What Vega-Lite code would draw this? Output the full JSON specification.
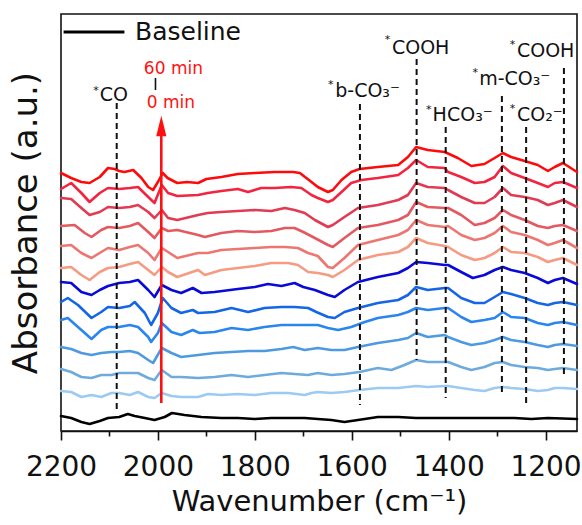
{
  "$schema": "https://vega.github.io/schema/vega-lite/v6.json",
  "width": 516,
  "height": 417,
  "autosize": "none",
  "padding": {"left": 61, "top": 14, "right": 5, "bottom": 94},
  "config": {
    "font": "DejaVu Sans",
    "view": {"stroke": "#111", "strokeWidth": 1.6},
    "axis": {"grid": false}
  },
  "datasets": {
    "spectra": [
      {"s":"S12","w":2200,"a":258},{"s":"S12","w":2179,"a":253},{"s":"S12","w":2158,"a":249},{"s":"S12","w":2141,"a":248},{"s":"S12","w":2120,"a":254},{"s":"S12","w":2103,"a":263},{"s":"S12","w":2089,"a":262},{"s":"S12","w":2080,"a":260},{"s":"S12","w":2069,"a":259},{"s":"S12","w":2051,"a":261},{"s":"S12","w":2034,"a":253},{"s":"S12","w":2020,"a":244},{"s":"S12","w":2010,"a":241},{"s":"S12","w":2000,"a":249},{"s":"S12","w":1990,"a":258},{"s":"S12","w":1980,"a":253},{"s":"S12","w":1960,"a":248},{"s":"S12","w":1940,"a":249},{"s":"S12","w":1917,"a":248},{"s":"S12","w":1900,"a":252},{"s":"S12","w":1869,"a":254},{"s":"S12","w":1835,"a":257},{"s":"S12","w":1800,"a":258},{"s":"S12","w":1759,"a":259},{"s":"S12","w":1721,"a":259},{"s":"S12","w":1707,"a":258},{"s":"S12","w":1683,"a":249},{"s":"S12","w":1670,"a":244},{"s":"S12","w":1649,"a":239},{"s":"S12","w":1639,"a":241},{"s":"S12","w":1621,"a":251},{"s":"S12","w":1601,"a":259},{"s":"S12","w":1584,"a":262},{"s":"S12","w":1546,"a":264},{"s":"S12","w":1504,"a":266},{"s":"S12","w":1484,"a":274},{"s":"S12","w":1467,"a":284},{"s":"S12","w":1443,"a":281},{"s":"S12","w":1408,"a":279},{"s":"S12","w":1381,"a":273},{"s":"S12","w":1353,"a":265},{"s":"S12","w":1326,"a":267},{"s":"S12","w":1305,"a":273},{"s":"S12","w":1288,"a":278},{"s":"S12","w":1271,"a":274},{"s":"S12","w":1243,"a":270},{"s":"S12","w":1216,"a":266},{"s":"S12","w":1195,"a":260},{"s":"S12","w":1181,"a":264},{"s":"S12","w":1164,"a":268},{"s":"S12","w":1135,"a":259},
      {"s":"S11","w":2200,"a":242},{"s":"S11","w":2179,"a":248},{"s":"S11","w":2158,"a":238},{"s":"S11","w":2141,"a":229},{"s":"S11","w":2120,"a":238},{"s":"S11","w":2103,"a":243},{"s":"S11","w":2080,"a":242},{"s":"S11","w":2058,"a":243},{"s":"S11","w":2041,"a":244},{"s":"S11","w":2020,"a":234},{"s":"S11","w":2007,"a":228},{"s":"S11","w":1992,"a":246},{"s":"S11","w":1979,"a":238},{"s":"S11","w":1960,"a":235},{"s":"S11","w":1917,"a":236},{"s":"S11","w":1897,"a":238},{"s":"S11","w":1869,"a":240},{"s":"S11","w":1835,"a":242},{"s":"S11","w":1814,"a":239},{"s":"S11","w":1787,"a":243},{"s":"S11","w":1759,"a":243},{"s":"S11","w":1725,"a":244},{"s":"S11","w":1704,"a":243},{"s":"S11","w":1683,"a":236},{"s":"S11","w":1670,"a":233},{"s":"S11","w":1649,"a":229},{"s":"S11","w":1639,"a":231},{"s":"S11","w":1621,"a":239},{"s":"S11","w":1601,"a":248},{"s":"S11","w":1580,"a":251},{"s":"S11","w":1546,"a":253},{"s":"S11","w":1504,"a":256},{"s":"S11","w":1484,"a":263},{"s":"S11","w":1467,"a":271},{"s":"S11","w":1443,"a":264},{"s":"S11","w":1408,"a":263},{"s":"S11","w":1401,"a":259},{"s":"S11","w":1374,"a":254},{"s":"S11","w":1346,"a":248},{"s":"S11","w":1326,"a":249},{"s":"S11","w":1305,"a":254},{"s":"S11","w":1288,"a":265},{"s":"S11","w":1271,"a":258},{"s":"S11","w":1243,"a":253},{"s":"S11","w":1216,"a":248},{"s":"S11","w":1195,"a":244},{"s":"S11","w":1181,"a":248},{"s":"S11","w":1164,"a":249},{"s":"S11","w":1135,"a":243},
      {"s":"S10","w":2200,"a":233},{"s":"S10","w":2179,"a":232},{"s":"S10","w":2158,"a":223},{"s":"S10","w":2141,"a":216},{"s":"S10","w":2120,"a":219},{"s":"S10","w":2103,"a":224},{"s":"S10","w":2080,"a":223},{"s":"S10","w":2058,"a":224},{"s":"S10","w":2041,"a":226},{"s":"S10","w":2020,"a":219},{"s":"S10","w":2007,"a":213},{"s":"S10","w":1992,"a":221},{"s":"S10","w":1979,"a":213},{"s":"S10","w":1960,"a":211},{"s":"S10","w":1917,"a":216},{"s":"S10","w":1897,"a":218},{"s":"S10","w":1869,"a":219},{"s":"S10","w":1835,"a":220},{"s":"S10","w":1800,"a":221},{"s":"S10","w":1766,"a":220},{"s":"S10","w":1738,"a":223},{"s":"S10","w":1718,"a":221},{"s":"S10","w":1697,"a":218},{"s":"S10","w":1676,"a":211},{"s":"S10","w":1649,"a":204},{"s":"S10","w":1639,"a":206},{"s":"S10","w":1615,"a":214},{"s":"S10","w":1587,"a":223},{"s":"S10","w":1546,"a":226},{"s":"S10","w":1504,"a":231},{"s":"S10","w":1484,"a":236},{"s":"S10","w":1467,"a":248},{"s":"S10","w":1443,"a":244},{"s":"S10","w":1408,"a":243},{"s":"S10","w":1401,"a":241},{"s":"S10","w":1374,"a":234},{"s":"S10","w":1346,"a":228},{"s":"S10","w":1326,"a":228},{"s":"S10","w":1305,"a":234},{"s":"S10","w":1288,"a":243},{"s":"S10","w":1271,"a":236},{"s":"S10","w":1243,"a":234},{"s":"S10","w":1216,"a":231},{"s":"S10","w":1195,"a":226},{"s":"S10","w":1181,"a":228},{"s":"S10","w":1164,"a":231},{"s":"S10","w":1135,"a":224},
      {"s":"S9","w":2200,"a":205},{"s":"S9","w":2172,"a":206},{"s":"S9","w":2151,"a":198},{"s":"S9","w":2137,"a":194},{"s":"S9","w":2117,"a":201},{"s":"S9","w":2103,"a":204},{"s":"S9","w":2080,"a":203},{"s":"S9","w":2058,"a":205},{"s":"S9","w":2041,"a":208},{"s":"S9","w":2020,"a":199},{"s":"S9","w":2007,"a":193},{"s":"S9","w":1992,"a":203},{"s":"S9","w":1979,"a":200},{"s":"S9","w":1960,"a":201},{"s":"S9","w":1917,"a":196},{"s":"S9","w":1903,"a":194},{"s":"S9","w":1869,"a":198},{"s":"S9","w":1835,"a":200},{"s":"S9","w":1800,"a":199},{"s":"S9","w":1766,"a":200},{"s":"S9","w":1738,"a":203},{"s":"S9","w":1718,"a":203},{"s":"S9","w":1700,"a":199},{"s":"S9","w":1680,"a":194},{"s":"S9","w":1649,"a":186},{"s":"S9","w":1639,"a":184},{"s":"S9","w":1615,"a":193},{"s":"S9","w":1587,"a":203},{"s":"S9","w":1546,"a":206},{"s":"S9","w":1504,"a":211},{"s":"S9","w":1484,"a":216},{"s":"S9","w":1467,"a":229},{"s":"S9","w":1443,"a":224},{"s":"S9","w":1408,"a":223},{"s":"S9","w":1401,"a":223},{"s":"S9","w":1374,"a":216},{"s":"S9","w":1346,"a":206},{"s":"S9","w":1326,"a":208},{"s":"S9","w":1305,"a":213},{"s":"S9","w":1288,"a":221},{"s":"S9","w":1271,"a":216},{"s":"S9","w":1243,"a":211},{"s":"S9","w":1216,"a":205},{"s":"S9","w":1195,"a":203},{"s":"S9","w":1181,"a":205},{"s":"S9","w":1164,"a":206},{"s":"S9","w":1135,"a":200},
      {"s":"S8","w":2200,"a":185},{"s":"S8","w":2179,"a":186},{"s":"S8","w":2158,"a":178},{"s":"S8","w":2137,"a":173},{"s":"S8","w":2117,"a":179},{"s":"S8","w":2103,"a":183},{"s":"S8","w":2080,"a":181},{"s":"S8","w":2058,"a":184},{"s":"S8","w":2041,"a":186},{"s":"S8","w":2020,"a":178},{"s":"S8","w":2007,"a":171},{"s":"S8","w":1992,"a":183},{"s":"S8","w":1979,"a":179},{"s":"S8","w":1960,"a":173},{"s":"S8","w":1917,"a":178},{"s":"S8","w":1897,"a":178},{"s":"S8","w":1869,"a":181},{"s":"S8","w":1835,"a":182},{"s":"S8","w":1800,"a":183},{"s":"S8","w":1766,"a":184},{"s":"S8","w":1738,"a":184},{"s":"S8","w":1711,"a":183},{"s":"S8","w":1690,"a":178},{"s":"S8","w":1670,"a":175},{"s":"S8","w":1649,"a":164},{"s":"S8","w":1639,"a":163},{"s":"S8","w":1615,"a":173},{"s":"S8","w":1587,"a":186},{"s":"S8","w":1546,"a":191},{"s":"S8","w":1504,"a":196},{"s":"S8","w":1484,"a":201},{"s":"S8","w":1467,"a":211},{"s":"S8","w":1443,"a":206},{"s":"S8","w":1408,"a":204},{"s":"S8","w":1401,"a":205},{"s":"S8","w":1374,"a":196},{"s":"S8","w":1346,"a":191},{"s":"S8","w":1326,"a":193},{"s":"S8","w":1305,"a":198},{"s":"S8","w":1288,"a":205},{"s":"S8","w":1271,"a":199},{"s":"S8","w":1243,"a":196},{"s":"S8","w":1216,"a":191},{"s":"S8","w":1195,"a":186},{"s":"S8","w":1181,"a":188},{"s":"S8","w":1164,"a":191},{"s":"S8","w":1135,"a":183},
      {"s":"S7","w":2200,"a":163},{"s":"S7","w":2179,"a":164},{"s":"S7","w":2158,"a":156},{"s":"S7","w":2141,"a":151},{"s":"S7","w":2120,"a":159},{"s":"S7","w":2103,"a":163},{"s":"S7","w":2080,"a":164},{"s":"S7","w":2058,"a":167},{"s":"S7","w":2041,"a":169},{"s":"S7","w":2020,"a":161},{"s":"S7","w":2007,"a":156},{"s":"S7","w":1992,"a":164},{"s":"S7","w":1979,"a":159},{"s":"S7","w":1960,"a":154},{"s":"S7","w":1917,"a":161},{"s":"S7","w":1903,"a":156},{"s":"S7","w":1869,"a":161},{"s":"S7","w":1835,"a":163},{"s":"S7","w":1800,"a":165},{"s":"S7","w":1766,"a":168},{"s":"S7","w":1731,"a":168},{"s":"S7","w":1711,"a":166},{"s":"S7","w":1690,"a":159},{"s":"S7","w":1670,"a":158},{"s":"S7","w":1649,"a":156},{"s":"S7","w":1639,"a":154},{"s":"S7","w":1615,"a":161},{"s":"S7","w":1587,"a":171},{"s":"S7","w":1546,"a":176},{"s":"S7","w":1504,"a":179},{"s":"S7","w":1484,"a":184},{"s":"S7","w":1467,"a":193},{"s":"S7","w":1443,"a":188},{"s":"S7","w":1408,"a":185},{"s":"S7","w":1401,"a":184},{"s":"S7","w":1374,"a":176},{"s":"S7","w":1346,"a":171},{"s":"S7","w":1326,"a":173},{"s":"S7","w":1305,"a":178},{"s":"S7","w":1288,"a":184},{"s":"S7","w":1271,"a":179},{"s":"S7","w":1243,"a":178},{"s":"S7","w":1216,"a":174},{"s":"S7","w":1195,"a":169},{"s":"S7","w":1181,"a":171},{"s":"S7","w":1164,"a":173},{"s":"S7","w":1135,"a":166},
      {"s":"S6","w":2200,"a":149},{"s":"S6","w":2179,"a":148},{"s":"S6","w":2158,"a":139},{"s":"S6","w":2137,"a":136},{"s":"S6","w":2120,"a":141},{"s":"S6","w":2103,"a":145},{"s":"S6","w":2080,"a":148},{"s":"S6","w":2058,"a":149},{"s":"S6","w":2041,"a":151},{"s":"S6","w":2020,"a":141},{"s":"S6","w":2007,"a":134},{"s":"S6","w":1992,"a":146},{"s":"S6","w":1972,"a":141},{"s":"S6","w":1952,"a":138},{"s":"S6","w":1928,"a":143},{"s":"S6","w":1910,"a":138},{"s":"S6","w":1883,"a":139},{"s":"S6","w":1835,"a":142},{"s":"S6","w":1800,"a":144},{"s":"S6","w":1773,"a":147},{"s":"S6","w":1745,"a":145},{"s":"S6","w":1718,"a":148},{"s":"S6","w":1700,"a":144},{"s":"S6","w":1676,"a":141},{"s":"S6","w":1649,"a":136},{"s":"S6","w":1635,"a":134},{"s":"S6","w":1615,"a":141},{"s":"S6","w":1587,"a":149},{"s":"S6","w":1546,"a":154},{"s":"S6","w":1504,"a":158},{"s":"S6","w":1484,"a":163},{"s":"S6","w":1467,"a":169},{"s":"S6","w":1443,"a":168},{"s":"S6","w":1408,"a":166},{"s":"S6","w":1401,"a":166},{"s":"S6","w":1374,"a":159},{"s":"S6","w":1350,"a":153},{"s":"S6","w":1326,"a":156},{"s":"S6","w":1305,"a":161},{"s":"S6","w":1288,"a":164},{"s":"S6","w":1271,"a":161},{"s":"S6","w":1243,"a":158},{"s":"S6","w":1216,"a":153},{"s":"S6","w":1195,"a":148},{"s":"S6","w":1181,"a":151},{"s":"S6","w":1164,"a":153},{"s":"S6","w":1135,"a":147},
      {"s":"S5","w":2200,"a":129},{"s":"S5","w":2186,"a":133},{"s":"S5","w":2165,"a":126},{"s":"S5","w":2137,"a":113},{"s":"S5","w":2117,"a":119},{"s":"S5","w":2103,"a":124},{"s":"S5","w":2080,"a":123},{"s":"S5","w":2058,"a":125},{"s":"S5","w":2048,"a":129},{"s":"S5","w":2027,"a":118},{"s":"S5","w":2014,"a":106},{"s":"S5","w":2000,"a":118},{"s":"S5","w":1990,"a":133},{"s":"S5","w":1972,"a":123},{"s":"S5","w":1952,"a":118},{"s":"S5","w":1928,"a":121},{"s":"S5","w":1917,"a":118},{"s":"S5","w":1883,"a":119},{"s":"S5","w":1848,"a":123},{"s":"S5","w":1814,"a":119},{"s":"S5","w":1780,"a":123},{"s":"S5","w":1745,"a":124},{"s":"S5","w":1718,"a":124},{"s":"S5","w":1690,"a":123},{"s":"S5","w":1673,"a":119},{"s":"S5","w":1649,"a":114},{"s":"S5","w":1635,"a":113},{"s":"S5","w":1615,"a":119},{"s":"S5","w":1587,"a":123},{"s":"S5","w":1546,"a":128},{"s":"S5","w":1504,"a":131},{"s":"S5","w":1484,"a":136},{"s":"S5","w":1467,"a":144},{"s":"S5","w":1443,"a":141},{"s":"S5","w":1408,"a":143},{"s":"S5","w":1401,"a":143},{"s":"S5","w":1374,"a":133},{"s":"S5","w":1346,"a":128},{"s":"S5","w":1326,"a":128},{"s":"S5","w":1305,"a":134},{"s":"S5","w":1288,"a":139},{"s":"S5","w":1271,"a":137},{"s":"S5","w":1243,"a":133},{"s":"S5","w":1216,"a":128},{"s":"S5","w":1195,"a":126},{"s":"S5","w":1181,"a":128},{"s":"S5","w":1164,"a":129},{"s":"S5","w":1135,"a":126},
      {"s":"S4","w":2200,"a":111},{"s":"S4","w":2186,"a":113},{"s":"S4","w":2165,"a":104},{"s":"S4","w":2137,"a":92},{"s":"S4","w":2117,"a":101},{"s":"S4","w":2103,"a":104},{"s":"S4","w":2080,"a":104},{"s":"S4","w":2058,"a":106},{"s":"S4","w":2041,"a":104},{"s":"S4","w":2020,"a":94},{"s":"S4","w":2014,"a":89},{"s":"S4","w":2000,"a":98},{"s":"S4","w":1992,"a":108},{"s":"S4","w":1972,"a":99},{"s":"S4","w":1952,"a":96},{"s":"S4","w":1928,"a":101},{"s":"S4","w":1914,"a":98},{"s":"S4","w":1883,"a":99},{"s":"S4","w":1848,"a":103},{"s":"S4","w":1814,"a":101},{"s":"S4","w":1780,"a":104},{"s":"S4","w":1745,"a":106},{"s":"S4","w":1718,"a":106},{"s":"S4","w":1690,"a":106},{"s":"S4","w":1670,"a":106},{"s":"S4","w":1649,"a":103},{"s":"S4","w":1628,"a":101},{"s":"S4","w":1601,"a":104},{"s":"S4","w":1573,"a":109},{"s":"S4","w":1546,"a":113},{"s":"S4","w":1504,"a":116},{"s":"S4","w":1484,"a":119},{"s":"S4","w":1467,"a":123},{"s":"S4","w":1443,"a":121},{"s":"S4","w":1408,"a":123},{"s":"S4","w":1401,"a":123},{"s":"S4","w":1374,"a":114},{"s":"S4","w":1353,"a":109},{"s":"S4","w":1326,"a":111},{"s":"S4","w":1305,"a":113},{"s":"S4","w":1288,"a":119},{"s":"S4","w":1271,"a":114},{"s":"S4","w":1243,"a":113},{"s":"S4","w":1216,"a":108},{"s":"S4","w":1195,"a":106},{"s":"S4","w":1181,"a":108},{"s":"S4","w":1164,"a":109},{"s":"S4","w":1135,"a":106},
      {"s":"S3","w":2200,"a":84},{"s":"S3","w":2179,"a":82},{"s":"S3","w":2158,"a":78},{"s":"S3","w":2137,"a":76},{"s":"S3","w":2117,"a":78},{"s":"S3","w":2096,"a":79},{"s":"S3","w":2080,"a":79},{"s":"S3","w":2058,"a":80},{"s":"S3","w":2041,"a":78},{"s":"S3","w":2020,"a":71},{"s":"S3","w":2010,"a":68},{"s":"S3","w":1992,"a":83},{"s":"S3","w":1972,"a":78},{"s":"S3","w":1952,"a":74},{"s":"S3","w":1917,"a":76},{"s":"S3","w":1883,"a":78},{"s":"S3","w":1848,"a":79},{"s":"S3","w":1814,"a":80},{"s":"S3","w":1780,"a":80},{"s":"S3","w":1745,"a":82},{"s":"S3","w":1721,"a":84},{"s":"S3","w":1697,"a":81},{"s":"S3","w":1670,"a":83},{"s":"S3","w":1642,"a":81},{"s":"S3","w":1615,"a":81},{"s":"S3","w":1587,"a":84},{"s":"S3","w":1546,"a":88},{"s":"S3","w":1504,"a":91},{"s":"S3","w":1484,"a":93},{"s":"S3","w":1467,"a":98},{"s":"S3","w":1443,"a":94},{"s":"S3","w":1408,"a":96},{"s":"S3","w":1401,"a":94},{"s":"S3","w":1374,"a":89},{"s":"S3","w":1353,"a":86},{"s":"S3","w":1326,"a":88},{"s":"S3","w":1305,"a":91},{"s":"S3","w":1288,"a":94},{"s":"S3","w":1271,"a":91},{"s":"S3","w":1243,"a":89},{"s":"S3","w":1216,"a":86},{"s":"S3","w":1195,"a":84},{"s":"S3","w":1181,"a":86},{"s":"S3","w":1164,"a":87},{"s":"S3","w":1135,"a":85},
      {"s":"S2","w":2200,"a":62},{"s":"S2","w":2179,"a":59},{"s":"S2","w":2158,"a":54},{"s":"S2","w":2137,"a":53},{"s":"S2","w":2117,"a":56},{"s":"S2","w":2096,"a":56},{"s":"S2","w":2080,"a":58},{"s":"S2","w":2058,"a":58},{"s":"S2","w":2041,"a":58},{"s":"S2","w":2020,"a":53},{"s":"S2","w":2007,"a":51},{"s":"S2","w":1992,"a":61},{"s":"S2","w":1972,"a":54},{"s":"S2","w":1952,"a":54},{"s":"S2","w":1917,"a":53},{"s":"S2","w":1883,"a":54},{"s":"S2","w":1848,"a":56},{"s":"S2","w":1814,"a":54},{"s":"S2","w":1780,"a":56},{"s":"S2","w":1745,"a":58},{"s":"S2","w":1718,"a":57},{"s":"S2","w":1690,"a":56},{"s":"S2","w":1670,"a":58},{"s":"S2","w":1642,"a":56},{"s":"S2","w":1615,"a":57},{"s":"S2","w":1584,"a":59},{"s":"S2","w":1546,"a":63},{"s":"S2","w":1518,"a":61},{"s":"S2","w":1491,"a":66},{"s":"S2","w":1467,"a":71},{"s":"S2","w":1443,"a":69},{"s":"S2","w":1408,"a":69},{"s":"S2","w":1401,"a":69},{"s":"S2","w":1374,"a":64},{"s":"S2","w":1353,"a":61},{"s":"S2","w":1326,"a":64},{"s":"S2","w":1305,"a":68},{"s":"S2","w":1288,"a":69},{"s":"S2","w":1271,"a":66},{"s":"S2","w":1243,"a":64},{"s":"S2","w":1216,"a":63},{"s":"S2","w":1195,"a":61},{"s":"S2","w":1181,"a":62},{"s":"S2","w":1164,"a":63},{"s":"S2","w":1135,"a":61},
      {"s":"S1","w":2200,"a":40},{"s":"S1","w":2179,"a":39},{"s":"S1","w":2158,"a":34},{"s":"S1","w":2137,"a":36},{"s":"S1","w":2117,"a":34},{"s":"S1","w":2096,"a":38},{"s":"S1","w":2080,"a":38},{"s":"S1","w":2058,"a":36},{"s":"S1","w":2041,"a":39},{"s":"S1","w":2020,"a":34},{"s":"S1","w":2007,"a":33},{"s":"S1","w":1992,"a":38},{"s":"S1","w":1972,"a":35},{"s":"S1","w":1952,"a":34},{"s":"S1","w":1917,"a":34},{"s":"S1","w":1897,"a":37},{"s":"S1","w":1869,"a":36},{"s":"S1","w":1835,"a":37},{"s":"S1","w":1800,"a":36},{"s":"S1","w":1766,"a":38},{"s":"S1","w":1731,"a":38},{"s":"S1","w":1697,"a":36},{"s":"S1","w":1683,"a":38},{"s":"S1","w":1670,"a":39},{"s":"S1","w":1642,"a":38},{"s":"S1","w":1615,"a":39},{"s":"S1","w":1584,"a":41},{"s":"S1","w":1546,"a":43},{"s":"S1","w":1504,"a":43},{"s":"S1","w":1467,"a":45},{"s":"S1","w":1443,"a":44},{"s":"S1","w":1408,"a":45},{"s":"S1","w":1401,"a":45},{"s":"S1","w":1374,"a":43},{"s":"S1","w":1346,"a":41},{"s":"S1","w":1326,"a":40},{"s":"S1","w":1305,"a":43},{"s":"S1","w":1288,"a":44},{"s":"S1","w":1271,"a":43},{"s":"S1","w":1243,"a":42},{"s":"S1","w":1216,"a":40},{"s":"S1","w":1195,"a":41},{"s":"S1","w":1181,"a":43},{"s":"S1","w":1164,"a":43},{"s":"S1","w":1135,"a":42},
      {"s":"Baseline","w":2200,"a":15},{"s":"Baseline","w":2179,"a":13},{"s":"Baseline","w":2158,"a":9},{"s":"Baseline","w":2141,"a":7},{"s":"Baseline","w":2120,"a":10},{"s":"Baseline","w":2103,"a":13},{"s":"Baseline","w":2080,"a":14},{"s":"Baseline","w":2062,"a":17},{"s":"Baseline","w":2048,"a":15},{"s":"Baseline","w":2027,"a":13},{"s":"Baseline","w":2007,"a":11},{"s":"Baseline","w":1986,"a":14},{"s":"Baseline","w":1971,"a":18},{"s":"Baseline","w":1945,"a":16},{"s":"Baseline","w":1910,"a":14},{"s":"Baseline","w":1869,"a":13},{"s":"Baseline","w":1835,"a":13},{"s":"Baseline","w":1800,"a":12},{"s":"Baseline","w":1766,"a":13},{"s":"Baseline","w":1731,"a":13},{"s":"Baseline","w":1697,"a":13},{"s":"Baseline","w":1670,"a":12},{"s":"Baseline","w":1642,"a":11},{"s":"Baseline","w":1615,"a":9},{"s":"Baseline","w":1587,"a":11},{"s":"Baseline","w":1546,"a":14},{"s":"Baseline","w":1504,"a":14},{"s":"Baseline","w":1467,"a":13},{"s":"Baseline","w":1429,"a":13},{"s":"Baseline","w":1401,"a":13},{"s":"Baseline","w":1332,"a":13},{"s":"Baseline","w":1264,"a":13},{"s":"Baseline","w":1229,"a":12},{"s":"Baseline","w":1195,"a":13},{"s":"Baseline","w":1135,"a":12}
    ],
    "peaks": [
      {"label":"CO","w":2085,"top":328,"bottom":21},
      {"label":"b-CO₃⁻","w":1583,"top":327,"bottom":26},
      {"label":"COOH","w":1466,"top":372,"bottom":71},
      {"label":"HCO₃⁻","w":1406,"top":304,"bottom":33},
      {"label":"m-CO₃⁻","w":1290,"top":335,"bottom":36},
      {"label":"CO₂⁻","w":1240,"top":304,"bottom":28},
      {"label":"COOH","w":1162,"top":363,"bottom":53}
    ],
    "labels": [
      {"t":"CO","w":2120,"a":330},
      {"t":"b-CO₃⁻","w":1634,"a":334},
      {"t":"COOH","w":1517,"a":377},
      {"t":"HCO₃⁻","w":1433,"a":310},
      {"t":"m-CO₃⁻","w":1337,"a":346},
      {"t":"CO₂⁻","w":1259,"a":310},
      {"t":"COOH","w":1259,"a":374}
    ],
    "stars": [
      {"t":"*","w":2128,"a":337},
      {"t":"*","w":1643,"a":343},
      {"t":"*","w":1526,"a":388},
      {"t":"*","w":1441,"a":318},
      {"t":"*","w":1345,"a":355},
      {"t":"*","w":1268,"a":319},
      {"t":"*","w":1268,"a":383}
    ],
    "time": [
      {"t":"60 min","w":1968,"a":357},
      {"t":"0 min","w":1973,"a":323}
    ],
    "arrow": [{"w":1993,"from":28,"to":300,"tip":305}],
    "sep": [{"w":2005,"from":341,"to":353}]
  },
  "layer": [
    {
      "data": {"name": "spectra"},
      "mark": {"type": "line", "strokeWidth": 2.6, "strokeJoin": "round", "strokeCap": "round"},
      "encoding": {
        "x": {
          "field": "w", "type": "quantitative",
          "scale": {"domain": [2200, 1135], "nice": false, "zero": false},
          "axis": {
            "values": [2200, 2100, 2000, 1900, 1800, 1700, 1600, 1500, 1400, 1300, 1200],
            "format": "d",
            "labelExpr": "datum.value % 200 === 0 ? datum.label : ''",
            "labelFontSize": 28,
            "labelColor": "#111",
            "labelPadding": 13,
            "labelFlush": false,
            "labelOverlap": false,
            "tickColor": "#111",
            "tickWidth": 1.6,
            "tickSize": {"condition": {"test": "datum.value % 200 === 0", "value": 9}, "value": 5},
            "domainColor": "#111",
            "domainWidth": 1.6,
            "title": "Wavenumber (cm⁻¹)",
            "titleFontSize": 29,
            "titleFontWeight": "normal",
            "titleColor": "#111",
            "titlePadding": 6
          }
        },
        "y": {
          "field": "a", "type": "quantitative",
          "scale": {"domain": [0, 417], "nice": false, "zero": false},
          "axis": {
            "labels": false, "ticks": false, "domain": false,
            "title": "Absorbance (a.u.)",
            "titleFontSize": 34,
            "titleFontWeight": "normal",
            "titleColor": "#111",
            "titlePadding": 18
          }
        },
        "color": {
          "field": "s", "type": "nominal",
          "scale": {
            "domain": ["S12","S11","S10","S9","S8","S7","S6","S5","S4","S3","S2","S1","Baseline"],
            "range": ["#ff0a0a","#f2243f","#e23a52","#e4585f","#ee7670","#f79a82","#0a0ad8","#1566e6","#2a86ee","#4d9ae2","#6eaadc","#9ccaf0","#000000"]
          },
          "legend": {
            "values": ["Baseline"],
            "orient": "none",
            "legendX": 1,
            "legendY": -14,
            "title": null,
            "padding": 0,
            "symbolType": "stroke",
            "symbolSize": 3700,
            "symbolStrokeWidth": 3,
            "labelFontSize": 25,
            "labelColor": "#111",
            "labelOffset": 9
          }
        }
      }
    },
    {
      "data": {"name": "peaks"},
      "mark": {"type": "rule", "color": "#111", "strokeWidth": 2, "strokeDash": [6, 4]},
      "encoding": {
        "x": {"field": "w", "type": "quantitative"},
        "y": {"field": "top", "type": "quantitative"},
        "y2": {"field": "bottom"}
      }
    },
    {
      "data": {"name": "arrow"},
      "mark": {"type": "rule", "color": "#ff1010", "strokeWidth": 2.6},
      "encoding": {
        "x": {"field": "w", "type": "quantitative"},
        "y": {"field": "from", "type": "quantitative"},
        "y2": {"field": "to"}
      }
    },
    {
      "data": {"name": "arrow"},
      "mark": {"type": "point", "shape": "M0,-1L0.5,1L-0.5,1Z", "filled": true, "color": "#ff1010", "opacity": 1, "size": 420},
      "encoding": {
        "x": {"field": "w", "type": "quantitative"},
        "y": {"field": "tip", "type": "quantitative"}
      }
    },
    {
      "data": {"name": "sep"},
      "mark": {"type": "rule", "color": "#111", "strokeWidth": 1.6},
      "encoding": {
        "x": {"field": "w", "type": "quantitative"},
        "y": {"field": "from", "type": "quantitative"},
        "y2": {"field": "to"}
      }
    },
    {
      "data": {"name": "labels"},
      "mark": {"type": "text", "fontSize": 19, "color": "#111", "align": "left", "baseline": "alphabetic"},
      "encoding": {
        "x": {"field": "w", "type": "quantitative"},
        "y": {"field": "a", "type": "quantitative"},
        "text": {"field": "t"}
      }
    },
    {
      "data": {"name": "stars"},
      "mark": {"type": "text", "fontSize": 11, "color": "#111", "align": "center", "baseline": "alphabetic"},
      "encoding": {
        "x": {"field": "w", "type": "quantitative"},
        "y": {"field": "a", "type": "quantitative"},
        "text": {"field": "t"}
      }
    },
    {
      "data": {"name": "time"},
      "mark": {"type": "text", "fontSize": 17, "color": "#ff1010", "align": "center", "baseline": "alphabetic"},
      "encoding": {
        "x": {"field": "w", "type": "quantitative"},
        "y": {"field": "a", "type": "quantitative"},
        "text": {"field": "t"}
      }
    }
  ]
}
